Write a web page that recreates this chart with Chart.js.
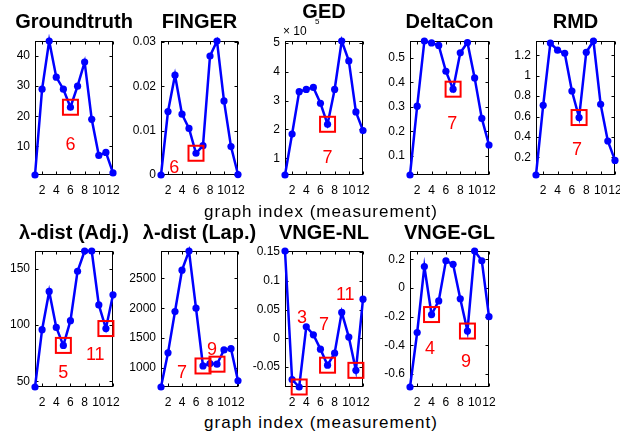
<!DOCTYPE html>
<html><head><meta charset="utf-8">
<script src="https://cdn.jsdelivr.net/npm/chart.js@4.4.1/dist/chart.umd.min.js"></script>
<style>
html,body{margin:0;padding:0;background:#fff;width:620px;height:439px;overflow:hidden;position:relative}
canvas{position:absolute}
.xl{position:absolute;width:300px;text-align:center;font:17px 'Liberation Sans',Arial,sans-serif;letter-spacing:1px;line-height:20px;color:#000;white-space:nowrap}
</style></head><body>
<div id="wrap"></div>
<script>
// ---------- data ----------
const graphIndex = [1,2,3,4,5,6,7,8,9,10,11,12];
const xTicks = [2,4,6,8,10,12];
const xTickLabels = ['2','4','6','8','10','12'];

const groundtruth = [0.5, 29, 45, 33, 29, 23, 30, 38, 19, 7, 8, 1.2];
const gtTicks = [10,20,30,40];
const gtTickLabels = ['10','20','30','40'];

const finger = [0, 0.0143, 0.0225, 0.0137, 0.0105, 0.0049, 0.0066, 0.0268, 0.0302, 0.0167, 0.0064, 0.0001];
const fingerTicks = [0,0.01,0.02,0.03];
const fingerTickLabels = ['0','0.01','0.02','0.03'];

// GED values in units of 10^5
const ged = [0.42, 1.84, 3.31, 3.39, 3.46, 2.91, 2.18, 3.39, 5.07, 4.38, 2.61, 1.96];
const gedTicks = [1,2,3,4,5];
const gedTickLabels = ['1','2','3','4','5'];

const deltacon = [0.023, 0.303, 0.568, 0.56, 0.55, 0.445, 0.372, 0.52, 0.562, 0.418, 0.253, 0.145];
const deltaconTicks = [0.1,0.2,0.3,0.4,0.5];
const deltaconTickLabels = ['0.1','0.2','0.3','0.4','0.5'];

const rmd = [0.027, 0.71, 1.32, 1.25, 1.22, 0.85, 0.59, 1.23, 1.34, 0.72, 0.36, 0.17];
const rmdTicks = [0.2,0.4,0.6,0.8,1,1.2];
const rmdTickLabels = ['0.2','0.4','0.6','0.8','1','1.2'];

const lambdaAdj = [45, 96, 130, 98, 82, 104, 148, 166, 166, 118, 97, 127];
const lambdaAdjTicks = [50,100,150];
const lambdaAdjTickLabels = ['50','100','150'];

const lambdaLap = [677, 1250, 1943, 2638, 2960, 2000, 1030, 1070, 1060, 1300, 1320, 780];
const lambdaLapTicks = [1000,1500,2000,2500];
const lambdaLapTickLabels = ['1000','1500','2000','2500'];

const vngeNL = [0.152, -0.072, -0.085, 0.020, 0.006, -0.019, -0.047, -0.026, 0.045, 0.002, -0.056, 0.068];
const vngeNLTicks = [-0.05,0,0.05,0.1,0.15];
const vngeNLTickLabels = ['-0.05','0','0.05','0.1','0.15'];

const vngeGL = [-0.69, -0.31, 0.15, -0.185, -0.09, 0.19, 0.165, -0.075, -0.30, 0.258, 0.19, -0.2];
const vngeGLTicks = [-0.6,-0.4,-0.2,0,0.2];
const vngeGLTickLabels = ['-0.6','-0.4','-0.2','0','0.2'];

// marked (boxed) graph indices per panel
const gtMarks = [6];
const fingerMarks = [6];
const gedMarks = [7];
const deltaconMarks = [7];
const rmdMarks = [7];
const lambdaAdjMarks = [5, 11];
const lambdaLapMarks = [7, 9];
const vngeNLMarks = [3, 7, 11];
const vngeGLMarks = [4, 9];

// ---------- layout ----------
const FONT = "'Liberation Sans', Arial, Helvetica, sans-serif";
const M = 55;
const rows = [
  {top:0,   height:205, axisH:30, titlePad:{top:10,bottom:7}},
  {top:210, height:200, axisH:23, titlePad:{top:11,bottom:6}}
];
const cols = [
  {left:35, w:78}, {left:161, w:77}, {left:285, w:78}, {left:410, w:79}, {left:536, w:79}
];

const panels = [
  {title:'Groundtruth', values:groundtruth, ticks:gtTicks, labels:gtTickLabels, marks:gtMarks, row:0, col:0,
   notes:[{t:'6', x:6, y:10.5}]},
  {title:'FINGER', values:finger, ticks:fingerTicks, labels:fingerTickLabels, marks:fingerMarks, row:0, col:1,
   notes:[{t:'6', x:2.9, y:0.0016}]},
  {title:'GED', values:ged, ticks:gedTicks, labels:gedTickLabels, marks:gedMarks, row:0, col:2, exponent:'5',
   titlePad:{top:0,bottom:17}, notes:[{t:'7', x:7, y:1.0}]},
  {title:'DeltaCon', values:deltacon, ticks:deltaconTicks, labels:deltaconTickLabels, marks:deltaconMarks, row:0, col:3,
   notes:[{t:'7', x:6.9, y:0.23}]},
  {title:'RMD', values:rmd, ticks:rmdTicks, labels:rmdTickLabels, marks:rmdMarks, row:0, col:4,
   notes:[{t:'7', x:6.7, y:0.27}]},
  {title:'\u03bb-dist (Adj.)', values:lambdaAdj, ticks:lambdaAdjTicks, labels:lambdaAdjTickLabels, marks:lambdaAdjMarks, row:1, col:0,
   notes:[{t:'5', x:5, y:57.5},{t:'11', x:9.5, y:73.5}]},
  {title:'\u03bb-dist (Lap.)', values:lambdaLap, ticks:lambdaLapTicks, labels:lambdaLapTickLabels, marks:lambdaLapMarks, row:1, col:1,
   notes:[{t:'7', x:4.0, y:912},{t:'9', x:8.3, y:1298}]},
  {title:'VNGE-NL', values:vngeNL, ticks:vngeNLTicks, labels:vngeNLTickLabels, marks:vngeNLMarks, row:1, col:2,
   notes:[{t:'3', x:3.4, y:0.035},{t:'7', x:6.5, y:0.023},{t:'11', x:9.5, y:0.075}]},
  {title:'VNGE-GL', values:vngeGL, ticks:vngeGLTicks, labels:vngeGLTickLabels, marks:vngeGLMarks, row:1, col:3,
   notes:[{t:'4', x:3.8, y:-0.425},{t:'9', x:8.8, y:-0.516}]}
];

const matlabAxes = {
  id:'matlabAxes',
  beforeDatasetsDraw(chart, args, opts){
    const {ctx, chartArea:a} = chart;
    const xs = chart.scales.x, ys = chart.scales.y;
    ctx.save();
    ctx.strokeStyle = '#000';
    ctx.lineWidth = 1;
    const L = Math.round(a.left)+0.5, R = Math.round(a.right)-0.5, T = Math.round(a.top)+0.5, B = Math.round(a.bottom)-0.5;
    ctx.strokeRect(L, T, R-L, B-T);
    const tl = 3;
    ctx.beginPath();
    xs.ticks.forEach(t => {
      const px = Math.round(xs.getPixelForValue(t.value))+0.5;
      ctx.moveTo(px, B); ctx.lineTo(px, B-tl);
      ctx.moveTo(px, T); ctx.lineTo(px, T+tl);
    });
    ys.ticks.forEach(t => {
      const py = Math.round(ys.getPixelForValue(t.value))+0.5;
      ctx.moveTo(L, py); ctx.lineTo(L+tl, py);
      ctx.moveTo(R, py); ctx.lineTo(R-tl, py);
    });
    ctx.stroke();
    ctx.restore();
  },
  afterDatasetsDraw(chart, args, opts){
    const {ctx, chartArea:a} = chart;
    const xs = chart.scales.x, ys = chart.scales.y;
    ctx.save();
    ctx.strokeStyle = '#ff0000';
    ctx.lineWidth = 2;
    (opts.marks||[]).forEach(m => {
      const px = xs.getPixelForValue(m), py = ys.getPixelForValue(opts.values[m-1]);
      ctx.strokeRect(px-7.5, py-7.5, 15, 15);
    });
    ctx.fillStyle = '#ff0000';
    ctx.font = '18px ' + FONT;
    ctx.textAlign = 'center';
    ctx.textBaseline = 'middle';
    (opts.notes||[]).forEach(n => {
      ctx.fillText(n.t, xs.getPixelForValue(n.x), ys.getPixelForValue(n.y));
    });
    if (opts.exponent) {
      ctx.fillStyle = '#000';
      ctx.textAlign = 'left';
      ctx.font = '12px ' + FONT;
      ctx.fillText('\u00d7 10', a.left-2, a.top-9.5);
      ctx.font = '8px ' + FONT;
      ctx.fillText(opts.exponent, a.left+30, a.top-19);
    }
    ctx.restore();
  }
};

const wrap = document.getElementById('wrap');
panels.forEach(p => {
  const row = rows[p.row], col = cols[p.col];
  const cv = document.createElement('canvas');
  const W = col.w + 2*M, H = row.height;
  cv.width = W; cv.height = H;
  cv.style.left = (col.left - M) + 'px';
  cv.style.top = row.top + 'px';
  cv.style.width = W + 'px'; cv.style.height = H + 'px';
  wrap.appendChild(cv);
  const vmin = Math.min(...p.values), vmax = Math.max(...p.values);
  new Chart(cv, {
    type:'line',
    data:{datasets:[{
      data: graphIndex.map((g,i)=>({x:g, y:p.values[i]})),
      borderColor:'#0000ff', backgroundColor:'#0000ff',
      borderWidth:2.5, pointRadius:3.6, pointHoverRadius:3.6,
      pointBackgroundColor:'#0000ff', pointBorderWidth:0,
      tension:0, clip:false
    }]},
    options:{
      responsive:false, animation:false, devicePixelRatio:1,
      events:[],
      layout:{padding:0},
      plugins:{
        legend:{display:false}, tooltip:{enabled:false},
        title:{display:true, text:p.title, color:'#000',
          font:{family:FONT, size:20, weight:'bold', lineHeight:1.2},
          padding: p.titlePad || row.titlePad},
        matlabAxes:{values:p.values, marks:p.marks, notes:p.notes, exponent:p.exponent}
      },
      scales:{
        x:{type:'linear', min:1, max:12,
          grid:{display:false, drawTicks:false}, border:{display:false},
          ticks:{autoSkip:false, maxRotation:0, minRotation:0, padding:8, color:'#000',
            font:{family:FONT, size:12}, callback:(v,i)=>xTickLabels[i]},
          afterBuildTicks:s=>{ s.ticks = xTicks.map(v=>({value:v})); },
          afterFit:s=>{ s.height = row.axisH; }},
        y:{type:'linear', position:'left', min:vmin, max:vmax,
          grid:{display:false, drawTicks:false}, border:{display:false},
          ticks:{padding:5, color:'#000', font:{family:FONT, size:12}, callback:(v,i)=>p.labels[i]},
          afterBuildTicks:s=>{ s.ticks = p.ticks.map(v=>({value:v})); },
          afterFit:s=>{ s.width = M; }},
        yr:{type:'linear', position:'right', min:0, max:1,
          grid:{display:false, drawTicks:false}, border:{display:false},
          ticks:{display:false},
          afterFit:s=>{ s.width = M; }}
      }
    },
    plugins:[matlabAxes]
  });
});
</script>
<div class="xl" style="left:171px;top:202px">graph index (measurement)</div>
<div class="xl" style="left:171px;top:413px">graph index (measurement)</div>
</body></html>
